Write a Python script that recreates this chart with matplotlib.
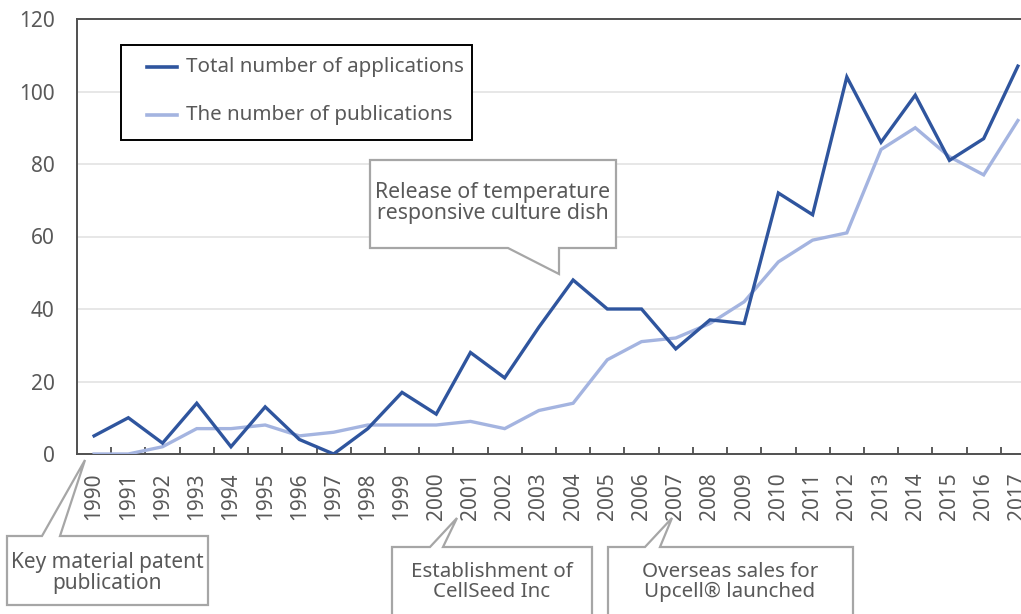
import matplotlib
matplotlib.use("Agg")
import matplotlib.pyplot as plt
from matplotlib.patches import Polygon, Rectangle
from matplotlib.lines import Line2D

plt.rcParams['font.family'] = ['Noto Sans', 'DejaVu Sans']

years = [str(y) for y in range(1990, 2018)]
applications = [5, 10, 3, 14, 2, 13, 4, 0, 7, 17, 11, 28, 21, 35, 48, 40, 40, 29,
                37, 36, 72, 66, 104, 86, 99, 81, 87, 107]
publications = [0, 0, 2, 7, 7, 8, 5, 6, 8, 8, 8, 9, 7, 12, 14, 26, 31, 32,
                36, 42, 53, 59, 61, 84, 90, 82, 77, 92]
series_labels = ["Total number of applications", "The number of publications"]
yticks = [0, 20, 40, 60, 80, 100, 120]

DARK = "#2F559E"
LIGHT = "#A4B4E0"
GREY_TXT = "#595959"
BOX_EDGE = "#A6A6A6"

W, H = 1021, 614
fig = plt.figure(figsize=(W / 100, H / 100), dpi=100)

# axes position in pixels (left, top, right, bottom)
L, T, R, B = 77, 19, 1035, 454
ax = fig.add_axes([L / W, 1 - B / H, (R - L) / W, (B - T) / H])

x = list(range(len(years)))
ax.plot(x, publications, color=LIGHT, lw=2.4, solid_joinstyle='miter', zorder=3)
ax.plot(x, applications, color=DARK, lw=2.4, solid_joinstyle='miter', zorder=4)

ax.set_xlim(-0.5, len(years) - 0.5)
ax.set_ylim(0, 120)
ax.set_yticks(yticks)
ax.set_yticklabels([str(v) for v in yticks])
ax.tick_params(axis='y', length=0, pad=16, labelsize=15, labelcolor=GREY_TXT)

ax.set_xticks(x)
ax.set_xticklabels(years, rotation=90, va='top', ha='center')
ax.tick_params(axis='x', which='major', length=0, pad=13, labelsize=15,
               labelcolor=GREY_TXT)
ax.set_xticks([i + 0.5 for i in x[:-1]], minor=True)
ax.tick_params(axis='x', which='minor', direction='in', length=5, width=1.2,
               color="#404040")

for v in yticks[1:-1]:
    ax.axhline(v, color="#E3E3E3", lw=1.2, zorder=1)

for s in ax.spines.values():
    s.set_color("#505050")
    s.set_linewidth(1.4)


def px(pts):
    return [(px_ / W, 1 - py_ / H) for px_, py_ in pts]


def callout(pts, lines, cx, cy, fs=14.8):
    poly = Polygon(px(pts), closed=True, facecolor='white', edgecolor=BOX_EDGE,
                   lw=1.6, transform=fig.transFigure, zorder=10, clip_on=False)
    fig.patches.append(poly)
    fig.text(cx / W, 1 - cy / H, "\n".join(lines), ha='center', va='center',
             fontsize=fs, color=GREY_TXT, linespacing=1.05, zorder=11)


# Legend (manual)
fig.patches.append(Rectangle((121 / W, 1 - 140 / H), (472 - 121) / W, (140 - 45) / H,
                             transform=fig.transFigure, facecolor='white',
                             edgecolor='black', lw=1.4, zorder=10))
for yy, col, lab in [(67, DARK, series_labels[0]), (115, LIGHT, series_labels[1])]:
    fig.lines.append(Line2D([147 / W, 177 / W], [1 - yy / H, 1 - yy / H], color=col,
                            lw=2.6, transform=fig.transFigure, zorder=11))
    fig.text(186 / W, 1 - yy / H, lab, ha='left', va='center', fontsize=14.8,
             color=GREY_TXT, zorder=11)

callout([(370, 160), (616, 160), (616, 248), (559, 248), (559, 274), (508, 248),
         (370, 248)],
        ["Release of temperature", "responsive culture dish"], 493, 203, fs=15.3)

callout([(7, 536), (42, 536), (85, 460), (60, 536), (208, 536), (208, 605), (7, 605)],
        ["Key material patent", "publication"], 107, 573, fs=15)

callout([(392, 547), (430, 547), (457, 518), (443, 547), (592, 547), (592, 630),
         (392, 630)],
        ["Establishment of", "CellSeed Inc"], 492, 582)

callout([(608, 547), (645, 547), (672, 518), (660, 547), (853, 547), (853, 630),
         (608, 630)],
        ["Overseas sales for", "Upcell\u00ae launched"], 730, 582)

fig.savefig("out.png", dpi=100)
